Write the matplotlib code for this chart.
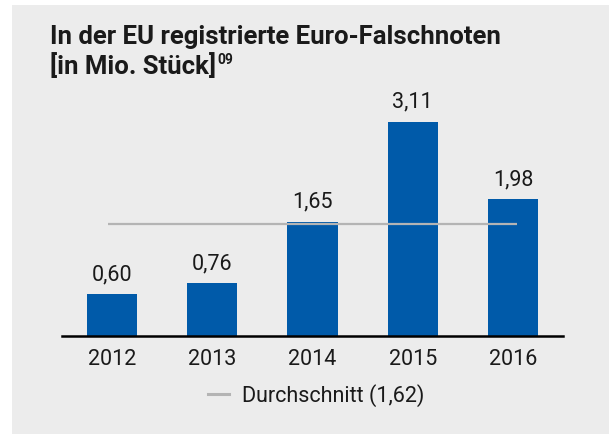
import numpy as np
import matplotlib
matplotlib.use('Agg')
import matplotlib.pyplot as plt
from matplotlib.patches import Rectangle

years = ['2012', '2013', '2014', '2015', '2016']
values = [0.60, 0.76, 1.65, 3.11, 1.98]
avg_value = 1.62
title_line1 = 'In der EU registrierte Euro-Falschnoten'
title_line2 = '[in Mio. Stück]'
title_note = '09'
legend_label = 'Durchschnitt (1,62)'

BLUE = '#005aa9'
BG = '#ececec'
AVG_GRAY = '#b4b4b4'
TEXT = '#1a1a1a'

plt.rcParams['font.family'] = ['Roboto', 'DejaVu Sans']


def de_num(v):
    return f'{v:.2f}'.replace('.', ',')


def main():
    W, H = 609, 435
    fig = plt.figure(figsize=(W / 100, H / 100), dpi=100, facecolor='white')

    # grey panel behind everything
    fig.patches.append(Rectangle((12 / W, 0), 1 - 12 / W, (H - 6) / H,
                                 transform=fig.transFigure, facecolor=BG,
                                 edgecolor='none', zorder=-1))

    ax = fig.add_axes([62 / W, (H - 336.5) / H, (563 - 62) / W, 0.553])
    ax.set_zorder(1)
    ax.set_facecolor('none')
    x = np.arange(len(years))
    ax.bar(x, values, width=0.5, color=BLUE, zorder=2)
    ax.hlines(avg_value, -0.04, 4.04, color=AVG_GRAY, lw=1.6, zorder=3)

    for xi, v in zip(x, values):
        ax.annotate(de_num(v), (xi, v), xytext=(0, 11), textcoords='offset points',
                    ha='center', va='baseline', fontsize=15.5, color=TEXT)

    ax.set_xlim(-0.5, 4.5)
    ax.set_ylim(0, 3.5)
    ax.set_xticks(x)
    ax.set_xticklabels(years, fontsize=15.5, color=TEXT)
    ax.set_yticks([])
    ax.tick_params(axis='x', length=0, pad=9)
    for s in ['top', 'left', 'right']:
        ax.spines[s].set_visible(False)
    ax.spines['bottom'].set_linewidth(1.8)
    ax.spines['bottom'].set_color('black')
    ax.spines['bottom'].set_zorder(4)

    # title
    fig.text(50 / W, (H - 44) / H, title_line1, fontsize=18.5, fontweight='bold',
             color=TEXT, va='baseline', ha='left')
    t2 = fig.text(50 / W, (H - 74) / H, title_line2, fontsize=18.5, fontweight='bold',
                  color=TEXT, va='baseline', ha='left')
    renderer = fig.canvas.get_renderer()
    bb = t2.get_window_extent(renderer)
    fig.text(bb.x1 / W + 1 / W, (H - 64) / H, title_note, fontsize=10, fontweight='bold',
             color=TEXT, va='baseline', ha='left')

    # legend
    ax.plot([], [], color=AVG_GRAY, lw=2.2, label=legend_label)
    fig.legend(loc='center', bbox_to_anchor=(316 / W, (H - 396) / H),
               frameon=False, fontsize=15.5, handlelength=1.0,
               handletextpad=0.6, labelcolor=TEXT)

    fig.savefig('out.png', dpi=100, facecolor='white')


if __name__ == '__main__':
    main()
